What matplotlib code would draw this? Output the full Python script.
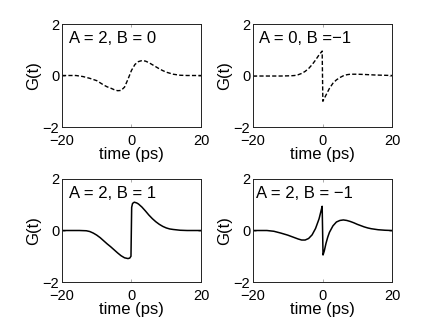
import matplotlib
matplotlib.use('Agg')
import matplotlib.pyplot as plt

plt.rcParams['font.family'] = ['Liberation Sans', 'DejaVu Sans']
plt.rcParams['font.size'] = 10

# A = 2, B = 0 (dashed)
t_a2b0 = [-20, -16, -14, -12, -10, -8, -7, -6, -5, -4, -3, -2, -1, 0, 1, 2, 3, 4, 5, 6, 7, 8, 9, 10, 12, 14, 16, 20]
g_a2b0 = [0, 0, -0.04, -0.11, -0.2, -0.37, -0.44, -0.49, -0.55, -0.59, -0.58, -0.45, -0.14, 0.2, 0.43, 0.54, 0.58, 0.56, 0.5, 0.42, 0.34, 0.26, 0.19, 0.13, 0.05, 0.01, 0, 0]

# A = 0, B = -1 (dashed)
t_a0bm1 = [-20, -12, -9, -8, -7, -6, -5, -4, -3, -2, -1, -0.1, 0.1, 1, 2, 3, 4, 5, 6, 7, 8, 10, 12, 15, 20]
g_a0bm1 = [-0.02, -0.02, -0.01, 0.0, 0.03, 0.08, 0.16, 0.27, 0.42, 0.6, 0.8, 0.95, -1.0, -0.76, -0.5, -0.3, -0.17, -0.08, -0.01, 0.03, 0.05, 0.05, 0.04, 0.02, 0.0]

# A = 2, B = 1 (solid)
t_a2b1 = [-20, -15, -13, -12, -11, -10, -9, -8, -7, -6, -5, -4, -3, -2, -1, -0.5, -0.15, 0.05, 0.3, 0.8, 1.5, 2, 3, 4, 5, 6, 7, 8, 9, 10, 11, 12, 14, 16, 20]
g_a2b1 = [0, 0, -0.01, -0.04, -0.1, -0.18, -0.28, -0.4, -0.52, -0.63, -0.75, -0.87, -0.98, -1.06, -1.09, -1.07, -1.0, 0.9, 1.05, 1.1, 1.07, 1.03, 0.91, 0.76, 0.6, 0.46, 0.34, 0.24, 0.16, 0.1, 0.06, 0.04, 0.01, 0, 0]

# A = 2, B = -1 (solid)
t_a2bm1 = [-20, -16, -14, -12, -10, -8, -7, -6, -5, -4, -3, -2, -1, -0.5, -0.1, 0.15, 0.5, 1, 1.5, 2, 3, 4, 5, 6, 7, 8, 9, 10, 11, 12, 13, 14, 15, 16, 18, 20]
g_a2bm1 = [0, 0, -0.03, -0.1, -0.18, -0.28, -0.33, -0.37, -0.37, -0.31, -0.17, 0.08, 0.45, 0.72, 0.94, -0.95, -0.8, -0.5, -0.26, -0.07, 0.18, 0.33, 0.39, 0.41, 0.39, 0.35, 0.3, 0.24, 0.19, 0.14, 0.1, 0.07, 0.05, 0.03, 0.01, 0]

panels = [
    ('A = 2, B = 0', t_a2b0, g_a2b0, 'dashed', -18.0),
    ('A = 0, B =\u22121', t_a0bm1, g_a0bm1, 'dashed', -18.4),
    ('A = 2, B = 1', t_a2b1, g_a2b1, 'solid', -18.0),
    ('A = 2, B = \u22121', t_a2bm1, g_a2bm1, 'solid', -19.2),
]

# axes rectangles in figure fraction (left, bottom, width, height)
rects = [
    [0.1422, 0.6116, 0.3188, 0.315],
    [0.5803, 0.6116, 0.3188, 0.315],
    [0.1422, 0.1376, 0.3188, 0.315],
    [0.5803, 0.1376, 0.3188, 0.315],
]

fig = plt.figure(figsize=(4.36, 3.27), dpi=100)

for rect, (label, t, g, ls, tx) in zip(rects, panels):
    ax = fig.add_axes(rect)
    if ls == 'dashed':
        ax.plot(t, g, color='black', lw=1.0, linestyle=(0, (3.0, 1.6)))
    else:
        ax.plot(t, g, color='black', lw=1.1)
    ax.set_xlim(-20, 20)
    ax.set_ylim(-2, 2)
    ax.set_xticks([-20, 0, 20])
    ax.set_yticks([-2, 0, 2])
    ax.tick_params(direction='in', length=2, width=0.5, color='#888888',
                   top=True, right=True, labelsize=10.5)
    ax.tick_params(axis='x', pad=5)
    ax.tick_params(axis='y', pad=2)
    for sp in ax.spines.values():
        sp.set_linewidth(0.7)
        sp.set_color('#222222')
    ax.set_xlabel('time (ps)', fontsize=12, labelpad=-1)
    ax.set_ylabel('G(t)', fontsize=12, labelpad=1)
    ax.text(tx, 1.28, label, fontsize=12, va='baseline', ha='left')

fig.savefig('out.png', dpi=100)
